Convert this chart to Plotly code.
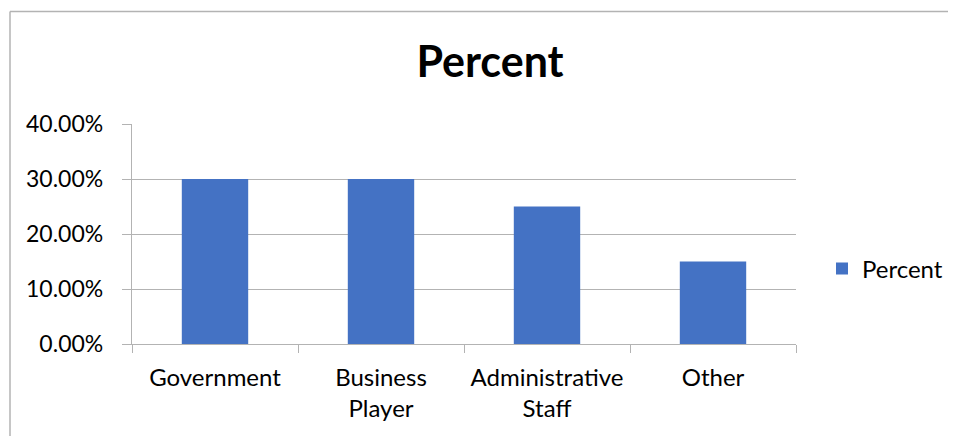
import plotly.graph_objects as go

categories = ["Government", "Business<br>Player", "Administrative<br>Staff", "Other"]
values = [0.30, 0.30, 0.25, 0.15]
series_name = "Percent"
title_text = "Percent"

FONT = "Lato"
GRID = "#b3b3b3"

# the page body adds an 8px offset, so all layout is shifted to compensate
OFF = 8
W, H = 956 - OFF, 436 - OFF
L, T = 132 - OFF, 124 - OFF
PW, PH = 664, 220

fig = go.Figure()
fig.add_trace(go.Bar(
    x=categories, y=values, name=series_name,
    marker=dict(color="#4472c4", line=dict(width=0)),
    showlegend=True,
))

fig.update_layout(
    width=W, height=H,
    margin=dict(l=L, r=W - L - PW, t=T, b=H - T - PH, pad=0, autoexpand=False),
    paper_bgcolor="white", plot_bgcolor="white",
    font=dict(family=FONT, size=24, color="#000000"),
    title=dict(text="<b>" + title_text + "</b>", x=(490 - OFF) / W, xanchor="center",
               y=1 - (62 - OFF) / H, yanchor="middle",
               font=dict(family=FONT, size=43, color="#000000")),
    bargap=0.6,
    showlegend=True,
    legend=dict(x=(822 - 132) / PW, y=(344 - 269) / PH, xanchor="left", yanchor="middle",
                font=dict(family=FONT, size=24), itemwidth=30,
                bgcolor="rgba(0,0,0,0)"),
    xaxis=dict(
        type="category", showline=True, linecolor=GRID, linewidth=1.3,
        ticks="outside", tickson="boundaries", ticklen=8, tickcolor=GRID,
        showgrid=False, tickfont=dict(family=FONT, size=24),
        tickangle=0, automargin=False,
        ticklabelstandoff=12,
    ),
    yaxis=dict(
        range=[0, 0.4], dtick=0.1, tickformat=".2%",
        showline=True, linecolor=GRID, linewidth=1.3,
        ticks="outside", ticklen=9, tickcolor=GRID,
        showgrid=True, gridcolor=GRID, gridwidth=1.3,
        zeroline=False, tickfont=dict(family=FONT, size=23),
        automargin=False,
        ticklabelstandoff=14,
    ),
    shapes=[
        dict(type="line", xref="paper", yref="paper",
             x0=(10 - 132) / PW, x1=(10 - 132) / PW,
             y0=(344 - 11.5) / PH, y1=-0.6,
             line=dict(color="#b3b3b3", width=1.5)),
        dict(type="line", xref="paper", yref="paper",
             x0=(10 - 132) / PW, x1=1.3,
             y0=(344 - 11.5) / PH, y1=(344 - 11.5) / PH,
             line=dict(color="#b3b3b3", width=1.5)),
    ],
)

fig.write_html("out.html")
